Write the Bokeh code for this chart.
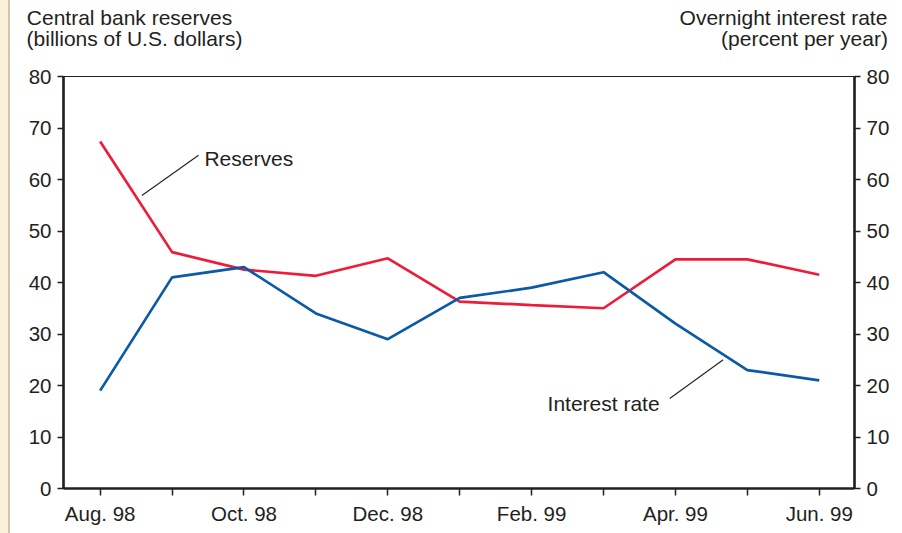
from bokeh.plotting import figure
from bokeh.models import Range1d, LinearAxis, FixedTicker, Label
from bokeh.embed import file_html
from bokeh.resources import INLINE

# ---- data ----
months = ["Aug. 98", "Sep. 98", "Oct. 98", "Nov. 98", "Dec. 98", "Jan. 99",
          "Feb. 99", "Mar. 99", "Apr. 99", "May 99", "Jun. 99"]
tick_labels = ["Aug. 98", "", "Oct. 98", "", "Dec. 98", "", "Feb. 99", "",
               "Apr. 99", "", "Jun. 99"]
reserves = [67.4, 45.9, 42.5, 41.3, 44.7, 36.3, 35.6, 35.0, 44.5, 44.5, 41.5]
interest_rate = [19, 41, 43, 34, 29, 37, 39, 42, 32, 23, 21]
y_ticks = [0, 10, 20, 30, 40, 50, 60, 70, 80]
left_title = ["Central bank reserves", "(billions of U.S. dollars)"]
right_title = ["Overnight interest rate", "(percent per year)"]

FONT = "Liberation Sans"
TXT = "#231F20"
RED = "#ED1C39"
BLUE = "#0A5AA8"
FS = "20.5px"
FT = "21px"

x = list(range(len(months)))

p = figure(width=902, height=533, output_backend="svg", toolbar_location=None,
           x_range=Range1d(-0.51, 10.49), y_range=Range1d(0, 80),
           min_border_left=63, min_border_right=48, min_border_top=76,
           min_border_bottom=45, x_axis_location="below", y_axis_location="left")
p.extra_x_ranges = {"px": Range1d(63, 854)}   # pixel positions for the title rows
p.background_fill_color = "white"
p.border_fill_color = None
p.styles = {"background": "linear-gradient(to right, #FBF0DC 0px, #FBF0DC 8px, #D5C4A8 8px, #D5C4A8 10px, #FFFFFF 10px)"}
p.outline_line_color = TXT
p.outline_line_width = 1.2
p.xgrid.visible = False
p.ygrid.visible = False

p.line(x, reserves, line_color=RED, line_width=2.7)
p.line(x, interest_rate, line_color=BLUE, line_width=2.7)

right_axis = LinearAxis()
p.add_layout(right_axis, "right")

for ax in p.yaxis:
    ax.ticker = FixedTicker(ticks=y_ticks)
    ax.axis_line_color = TXT
    ax.axis_line_width = 2.6
    ax.major_tick_line_color = TXT
    ax.major_tick_line_width = 1.5
    ax.major_tick_out = 6
    ax.major_tick_in = 0
    ax.minor_tick_line_color = None
    ax.major_label_text_font = FONT
    ax.major_label_text_font_size = FS
    ax.major_label_text_color = TXT
    ax.major_label_standoff = 6

xa = p.xaxis[0]
xa.ticker = FixedTicker(ticks=x)
xa.major_label_overrides = {i: lab for i, lab in enumerate(tick_labels)}
xa.axis_line_color = TXT
xa.axis_line_width = 2.6
xa.major_tick_line_color = TXT
xa.major_tick_line_width = 1.5
xa.major_tick_out = 7
xa.major_tick_in = 0
xa.minor_tick_line_color = None
xa.major_label_text_font = FONT
xa.major_label_text_font_size = FS
xa.major_label_text_color = TXT
xa.major_label_standoff = 6

# ---- axis titles: two label-only axes stacked above the frame ----
def title_row(texts, centers, standoff):
    ax = LinearAxis(x_range_name="px", ticker=FixedTicker(ticks=centers),
                    major_label_overrides=dict(zip(centers, texts)))
    ax.axis_line_color = None
    ax.major_tick_line_color = None
    ax.minor_tick_line_color = None
    ax.major_tick_out = 0
    ax.major_tick_in = 0
    ax.major_label_standoff = standoff
    ax.major_label_text_font = FONT
    ax.major_label_text_font_size = FT
    ax.major_label_text_color = TXT
    p.add_layout(ax, "above")

title_row([left_title[1], right_title[1]], [134, 804], 27)
title_row([left_title[0], right_title[0]], [129, 783], -5)

# ---- series labels with leader lines ----
def lab(text, xx, yy, align):
    p.add_layout(Label(x=xx, y=yy, text=text, text_align=align,
                       text_baseline="alphabetic", text_font=FONT,
                       text_font_size=FT, text_color=TXT))

p.segment(x0=[0.58, 8.664], y0=[56.9, 25.0], x1=[1.368, 7.921], y1=[64.7, 17.47],
          line_color=TXT, line_width=1.1)
lab("Reserves", 1.45, 64.05, "left")
lab("Interest rate", 7.78, 16.6, "right")

open("out.html", "w").write(file_html(p, INLINE))
